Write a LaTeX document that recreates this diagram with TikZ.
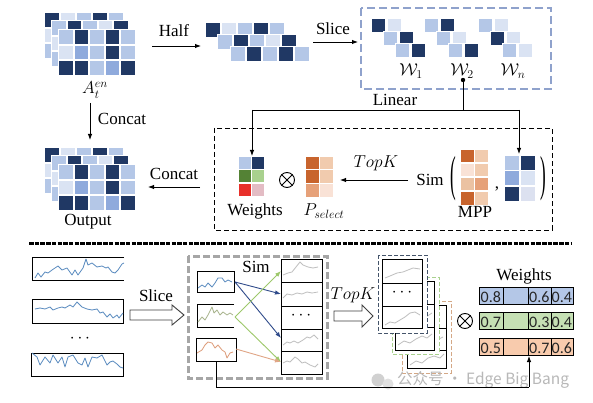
\documentclass[tikz,border=0pt]{standalone}
\usepackage{fontspec}
\setmainfont{Liberation Serif}
\newfontfamily\numfont{Carlito}
\newfontfamily\cjkfont{Noto Sans CJK SC}
\usepackage{graphicx}
\usetikzlibrary{arrows.meta}
\DeclareMathSizes{17}{17}{13}{10}
\definecolor{cDk}{HTML}{203864}
\definecolor{cMd}{HTML}{B4C7E7}
\definecolor{cLt}{HTML}{DAE3F3}
\definecolor{cBl}{HTML}{8FAADC}
\definecolor{cLtt}{HTML}{DCE1F0}
\definecolor{wGa}{HTML}{548235}
\definecolor{wGb}{HTML}{A9D18E}
\definecolor{wRa}{HTML}{E8302A}
\definecolor{wRb}{HTML}{E3BCC4}
\definecolor{oA}{HTML}{C8642D}
\definecolor{oB}{HTML}{F1CBAE}
\definecolor{oC}{HTML}{E6A179}
\definecolor{oD}{HTML}{F9E2D6}
\definecolor{oE}{HTML}{EBC2A2}
\definecolor{arrBlue}{HTML}{2F4A8A}
\definecolor{arrGreen}{HTML}{9DC86A}
\definecolor{arrOrange}{HTML}{E0A585}
\definecolor{tsBlue}{HTML}{5B8CC0}
\definecolor{tsOlive}{HTML}{A9B58E}
\definecolor{tsOrange}{HTML}{DE9E7C}
\definecolor{tsGray}{HTML}{BFBFBF}
\definecolor{dashBlue}{HTML}{8FA2CC}
\definecolor{dashGray}{HTML}{A6A6A6}
\definecolor{stNavy}{HTML}{44546A}
\definecolor{stGreen}{HTML}{A9D18E}
\definecolor{stOrange}{HTML}{D4A886}
\definecolor{tB}{HTML}{B4C7E7}
\definecolor{tG}{HTML}{C5E0B4}
\definecolor{tO}{HTML}{F8CBAD}
% x, y, ncols, pitch x, pitch y, size, colour list
\newcommand{\sqgrid}[7]{%
  \foreach \c [count=\i from 0] in {#7}{%
    \pgfmathsetmacro{\gx}{#1+mod(\i,#3)*#4}%
    \pgfmathsetmacro{\gy}{#2+int(\i/#3)*#5}%
    \fill[\c] (\gx,\gy) rectangle ++(#6,#6);}}
% same, squares with a white rim (hides what lies behind the gaps)
\newcommand{\sqgridw}[7]{%
  \foreach \c [count=\i from 0] in {#7}{%
    \pgfmathsetmacro{\gx}{#1+mod(\i,#3)*#4}%
    \pgfmathsetmacro{\gy}{#2+int(\i/#3)*#5}%
    \filldraw[fill=\c, draw=white, line width=1.8pt] (\gx,\gy) rectangle ++(#6,#6);}}
\newcommand{\agrid}[1]{%
  \sqgridw{44.5}{12.5+#1}{5}{16}{15.5}{15}{cDk,cLt,cMd,cDk,cMd,cLt,cMd,cDk,cMd,cLt,cMd,cLt,cMd,cDk,cMd}
  \sqgridw{51.5}{20.5+#1}{5}{15.5}{15.5}{15}{cMd,cDk,cMd,cLt,cDk,cLt,cMd,cDk,cMd,cMd,cMd,cLt,cMd,cDk,cMd}
  \sqgridw{58.5}{29.5+#1}{5}{15.5}{15.5}{15}{cMd,cDk,cMd,cDk,cMd,cLt,cBl,cMd,cDk,cMd,cDk,cDk,cMd,cBl,cDk}}
\begin{document}
\begin{tikzpicture}[x=1pt,y=-1pt,
  lbl/.style={font=\fontsize{17}{20}\selectfont, inner sep=0pt},
  num/.style={font=\numfont\fontsize{16}{18}\selectfont, inner sep=0pt, text=black!85},
  arr/.style={-{Latex[length=6pt,width=4.5pt]}, line width=0.9pt},
  conn/.style={line width=0.9pt},
  hollow/.style={draw=black!75, fill=white, line width=0.9pt, line join=miter},
  ts/.style={line width=0.8pt, line join=round},
  cellbox/.style={draw=black, line width=0.9pt, fill=white},
  otimes/.style={draw, circle, minimum size=15pt, inner sep=0pt, line width=0.9pt}]
\useasboundingbox (0,0) rectangle (593,403);
\fill[white] (0,0) rectangle (593,403);

% ---------------- top part ----------------
\agrid{0}
\node[lbl] (Alab) at (95,90) {$A_t^{en}$};
\agrid{135}
\node[lbl] (outlab) at (88,222) {Output};

% half
\sqgridw{205.5}{22.5}{5}{16}{0}{15}{cDk,cLt,cMd,cDk,cMd}
\sqgridw{217.5}{34.5}{5}{16}{0}{15}{cMd,cDk,cMd,cLt,cDk}
\sqgridw{230.5}{46.5}{5}{16}{0}{15}{cMd,cDk,cMd,cDk,cMd}
\node[lbl] (halflab) at (174,31) {Half};
\coordinate (halfS) at (152,46); \coordinate (halfE) at (201,46);
\draw[arr] (halfS) -- (halfE);

% slice
\node[lbl] (slicelab) at (333,29) {Slice};
\coordinate (sliceS) at (313,42); \coordinate (sliceE) at (358,42);
\draw[arr] (sliceS) -- (sliceE);
\draw[dashBlue, line width=2.6pt, dash pattern=on 8pt off 4pt] (361,8) rectangle (551,89);
% W1
\sqgridw{371.5}{18.5}{2}{15.5}{0}{14.5}{cDk,cLt}
\sqgridw{383.5}{31.5}{2}{15.5}{0}{14.5}{cMd,cDk}
\sqgridw{395.5}{43.5}{2}{15.5}{0}{14.5}{cMd,cDk}
% W2
\sqgridw{424.5}{18.5}{2}{15.5}{0}{14.5}{cMd,cDk}
\sqgridw{436.5}{31.5}{2}{15.5}{0}{14.5}{cMd,cLt}
\sqgridw{448.5}{43.5}{2}{15.5}{0}{14.5}{cMd,cDk}
% Wn
\sqgridw{478.5}{18.5}{2}{15.5}{0}{14.5}{cMd,cLt}
\sqgridw{490.5}{31.5}{2}{15.5}{0}{14.5}{cDk,cLt}
\sqgridw{502.5}{43.5}{2}{15.5}{0}{14.5}{cMd,cLt}
\node[lbl] (w1) at (411,71) {$\mathcal{W}_1$};
\node[lbl] (w2) at (462,71) {$\mathcal{W}_2$};
\node[lbl] (wn) at (513,71) {$\mathcal{W}_n$};

% linear connector
\coordinate (wdot) at (463,80);
\coordinate (linL) at (252,110); \coordinate (linR) at (519,110);
\coordinate (wtsT) at (252,156); \coordinate (rgT) at (519,154);
\fill (wdot) circle (2.2);
\draw[conn] (wdot) -- (wdot |- linL);
\draw[conn] (linL) -- (linR);
\draw[arr] (linL) -- (wtsT);
\draw[arr] (linR) -- (rgT);
\node[lbl] (linlab) at (395,100) {Linear};

% concat down
\coordinate (catS) at (90,103); \coordinate (catE) at (90,140);
\draw[arr] (catS) -- (catE);
\node[lbl] (catlab) at (122,119) {Concat};

% dashed box
\draw[line width=0.8pt, dash pattern=on 5pt off 3pt] (214,128) rectangle (552,230);
% weights mini
\sqgrid{239}{157}{2}{13.3}{13.5}{11.8}{cMd,cDk,wGa,wGb,wRa,wRb}
\node[lbl] (wtslab) at (255,211) {Weights};
\node[otimes] (ot1) at (287,180) {};
\draw[line width=0.9pt] (ot1.north west) -- (ot1.south east) (ot1.north east) -- (ot1.south west);
% Pselect
\sqgrid{306}{157}{2}{14}{13.5}{12.5}{oA,oB,oA,oB,oC,oD}
\node[lbl] (pslab) at (324,211) {$P_{select}$};
% topK
\node[lbl] (topklab) at (376,163) {$TopK$};
\coordinate (tkS) at (408,180); \coordinate (tkE) at (340,180);
\draw[arr] (tkS) -- (tkE);
\node[lbl] (simlab) at (430,180) {Sim};
\node[lbl] (lp) at (453,179) {\scalebox{1}[2.9]{(}};
\sqgrid{461}{150}{2}{14}{14}{12.5}{oA,oB,oD,oB,oE,oC,oA,oB}
\node[lbl] (mpplab) at (475,212) {MPP};
\node[lbl] (comma) at (497,189) {,};
\sqgrid{505}{156}{2}{15.5}{15.5}{14}{cMd,cDk,cBl,cLt,cDk,cLtt}
\node[lbl] (rp) at (543,179) {\scalebox{1}[2.9]{)}};

% concat left
\coordinate (cat2S) at (200,187); \coordinate (cat2E) at (148,187);
\draw[arr] (cat2S) -- (cat2E);
\node[lbl] (cat2lab) at (174,174) {Concat};

% ---------------- separator ----------------
\draw[line width=3pt, dash pattern=on 4.5pt off 1.2pt] (29,243) -- (572,243);

% ---------------- bottom part ----------------
% left series
\draw[line width=0.9pt] (124,257) -- (32,257) -- (32,280) -- (124,280);
\draw[ts, tsBlue] (35,278) -- (38,273) -- (41,277) -- (45,272) -- (48,273) -- (52,270) -- (55,268) -- (58,266) -- (62,270) -- (67,268) -- (72,275) -- (75,270) -- (78,275) -- (83,268) -- (86,259) -- (88,265) -- (92,263) -- (97,267) -- (102,266) -- (106,268) -- (108,267) -- (112,272) -- (115,273) -- (118,270) -- (122,264) -- (124,263);
\draw[line width=0.9pt] (32,299) rectangle (123,323);
\draw[ts, tsBlue] (35,309) -- (40,308) -- (45,309) -- (50,307) -- (53,310) -- (58,308) -- (62,307) -- (65,308) -- (70,305) -- (73,307) -- (77,302) -- (82,307) -- (87,309) -- (92,310) -- (97,309) -- (100,313) -- (103,312) -- (107,317) -- (110,314) -- (113,318) -- (117,315) -- (119,318) -- (123,313);
\node[lbl] (dots1) at (80,339) {$\cdots$};
\draw[line width=0.9pt] (31,353) rectangle (123,376);
\draw[ts, tsBlue] (32,353) -- (37,357) -- (40,365) -- (45,357) -- (50,363) -- (53,355) -- (58,363) -- (62,357) -- (65,367) -- (68,357) -- (73,355) -- (78,363) -- (82,365) -- (85,358) -- (88,367) -- (92,357) -- (97,358) -- (102,355) -- (107,365) -- (110,362) -- (113,361) -- (117,364) -- (120,367) -- (123,368);

% slice hollow arrow
\draw[hollow] (130,310) -- (172,310) -- (172,305) -- (184,315) -- (172,325) -- (172,320) -- (130,320) -- cycle;
\node[lbl] (slice2lab) at (156,296) {Slice};

% gray box
\draw[dashGray, line width=3pt, dash pattern=on 7pt off 3pt] (188,256) rectangle (327,378);
\draw[line width=0.9pt] (197,271) rectangle (234,292);
\draw[ts, tsBlue] (198,288) -- (202,285) -- (205,287) -- (208,283) -- (212,287) -- (215,283) -- (218,278) -- (222,278) -- (225,282) -- (228,280) -- (232,282);
\draw[line width=0.9pt] (234,304) -- (197,304) -- (197,327) -- (234,327);
\draw[ts, tsOlive] (198,322) -- (202,317) -- (205,320) -- (208,315) -- (212,307) -- (214,313) -- (217,310) -- (220,315) -- (223,312) -- (227,315) -- (230,313) -- (233,315);
\draw[line width=0.9pt] (196,338) rectangle (236,361);
\draw[ts, tsOrange] (197,353) -- (202,350) -- (205,345) -- (208,342) -- (212,343) -- (215,348) -- (218,345) -- (222,350) -- (225,352) -- (227,358) -- (230,353) -- (233,352);
\node[lbl] (simlab2) at (256,267) {Sim};
% stack
\draw[line width=0.9pt] (281,259) rectangle (322,374);
\foreach \yy in {282,306,329,351} \draw[line width=0.9pt] (281,\yy) -- (322,\yy);
\draw[ts, tsGray] (283,275) -- (288,273) -- (292,272) -- (296,267) -- (300,262) -- (303,265) -- (308,267) -- (313,268) -- (318,267);
\draw[ts, tsGray] (283,298) -- (287,294) -- (292,295) -- (297,293) -- (302,294) -- (307,292) -- (312,293) -- (318,292);
\node[lbl] (dots2) at (301,316) {$\cdots$};
\draw[ts, tsGray] (283,345) -- (287,342) -- (290,343) -- (294,341) -- (298,343) -- (303,340) -- (307,337) -- (310,338) -- (314,335) -- (318,339);
\draw[ts, tsGray] (283,363) -- (287,361) -- (290,362) -- (295,357) -- (298,359) -- (302,363) -- (305,362) -- (310,365) -- (315,367) -- (318,364);
% sim arrows
\coordinate (aR) at (235,282); \coordinate (bR) at (235,317); \coordinate (cR) at (236,349);
\coordinate (s1) at (281,271); \coordinate (s2) at (281,294); \coordinate (s4) at (281,338); \coordinate (s5) at (281,362);
\draw[arr, arrBlue] (aR) -- (s2);
\draw[arr, arrBlue] (aR) -- (s4);
\draw[arr, arrGreen] (bR) -- (s1);
\draw[arr, arrGreen] (bR) -- (s5);
\draw[arr, arrOrange] (cR) -- (s5);

% topK hollow arrow
\draw[hollow] (334,311) -- (362,311) -- (362,305) -- (373,316) -- (362,327) -- (362,321) -- (334,321) -- cycle;
\node[lbl] (topk2lab) at (353,295) {$TopK$};

% stacks: third, second, front
\draw[stOrange, line width=0.9pt, dash pattern=on 4pt off 2pt, fill=white] (402,301) rectangle (451,373);
\draw[cellbox] (407,305) rectangle (446,368);
\draw[line width=0.9pt] (407,328) -- (446,328) (407,350) -- (446,350);
\draw[ts, tsGray] (410,345) -- (416,342) -- (422,344) -- (428,340) -- (435,341) -- (443,337);
\draw[ts, tsGray] (410,365) -- (416,361) -- (422,363) -- (428,358) -- (434,356) -- (440,358) -- (444,354);
\draw[stGreen, line width=0.9pt, dash pattern=on 4pt off 2pt, fill=white] (392,277) rectangle (439,354);
\draw[cellbox] (395,281) rectangle (434,350);
\draw[line width=0.9pt] (395,304) -- (434,304) (395,327) -- (434,327);
\draw[ts, tsGray] (398,322) -- (405,318) -- (412,320) -- (420,316) -- (426,317) -- (432,313);
\draw[ts, tsGray] (398,345) -- (404,341) -- (410,343) -- (416,339) -- (422,336) -- (427,338) -- (432,334);
\draw[stNavy, line width=0.9pt, dash pattern=on 4pt off 2pt, fill=white] (378,255) rectangle (427,333);
\draw[cellbox] (382,259) rectangle (422,328);
\draw[line width=0.9pt] (382,283) -- (422,283) (382,306) -- (422,306);
\draw[ts, tsGray] (385,278) -- (390,276) -- (397,273) -- (403,272) -- (408,270) -- (413,268) -- (420,269);
\node[lbl] (dots3) at (402,293) {$\cdots$};
\draw[ts, tsGray] (385,325) -- (390,322) -- (395,323) -- (400,320) -- (405,317) -- (410,313) -- (415,312) -- (420,315);

% otimes bottom
\node[otimes] (ot2) at (465,321) {};
\draw[line width=0.9pt] (ot2.north west) -- (ot2.south east) (ot2.north east) -- (ot2.south west);

% weights table
\node[lbl] (wts2lab) at (524,276) {Weights};
\foreach \yy/\cc/\va/\vb/\vc [count=\r] in {287/tB/0.8/0.6/0.4, 312/tG/0.7/0.3/0.4, 338/tO/0.5/0.7/0.6}{
  \fill[\cc] (479,\yy) rectangle (573,\yy+17);
  \draw[line width=0.9pt] (479,\yy) rectangle (573,\yy+17);
  \draw[line width=0.9pt] (503,\yy) -- (503,\yy+17) (528,\yy) -- (528,\yy+17) (551,\yy) -- (551,\yy+17);
  \node[num, anchor=base west] (ta\r) at (480.5,\yy+15.5) {\va};
  \node[num, anchor=base west] (tb\r) at (529,\yy+15.5) {\vb};
  \node[num, anchor=base west] (tc\r) at (551.5,\yy+15.5) {\vc};
}

% watermark
\fill[black!18] (378,380) circle (6.5);
\fill[black!12] (388,384) circle (5.5);
\node[font=\cjkfont\fontsize{15.5}{18}\selectfont, text=black!28, anchor=west, inner sep=0pt] (wm) at (397,380) {公众号 · Edge Big Bang};

% feedback connector
\coordinate (cB) at (216,361); \coordinate (fb) at (216,387); \coordinate (tabB) at (529,356);
\draw[conn] (cB) -- (fb) -- (fb -| tabB);
\draw[arr] (fb -| tabB) -- (tabB);
\end{tikzpicture}
\end{document}
